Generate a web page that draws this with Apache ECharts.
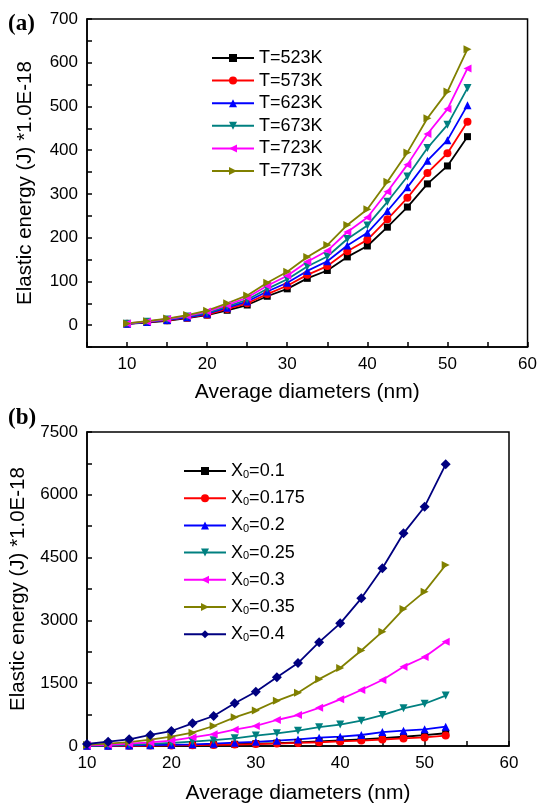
<!DOCTYPE html>
<html>
<head>
<meta charset="utf-8">
<script src="https://cdn.jsdelivr.net/npm/echarts@6/dist/echarts.min.js"></script>
<style>html,body{margin:0;padding:0;background:#fff}#c{width:540px;height:805px}</style>
</head>
<body>
<div id="c"></div>
<script>
// ---- data ----
const diameters = [10, 12.5, 15, 17.5, 20, 22.5, 25, 27.5, 30, 32.5, 35, 37.5, 40, 42.5, 45, 47.5, 50, 52.5];

const namesA = ['T=523K', 'T=573K', 'T=623K', 'T=673K', 'T=723K', 'T=773K'];
const T523 = [3, 6, 10, 16, 23, 34, 46, 66, 83, 107, 125, 156, 181, 224, 270, 323, 364, 431];
const T573 = [3, 7, 11, 17, 24, 37, 50, 71, 90, 115, 135, 169, 195, 242, 291, 348, 393, 465];
const T623 = [3, 7, 12, 18, 26, 40, 54, 77, 97, 124, 146, 182, 211, 261, 315, 376, 423, 503];
const T673 = [3, 8, 13, 20, 28, 43, 58, 83, 105, 134, 157, 197, 228, 282, 340, 405, 458, 542];
const T723 = [4, 8, 14, 21, 31, 46, 63, 90, 113, 145, 170, 213, 246, 305, 367, 437, 494, 587];
const T773 = [4, 9, 15, 23, 33, 50, 68, 97, 122, 156, 183, 229, 265, 328, 395, 473, 534, 631];

const namesB = ['X0=0.1', 'X0=0.175', 'X0=0.2', 'X0=0.25', 'X0=0.3', 'X0=0.35', 'X0=0.4'];
const X01 = [2, 4, 7, 11, 16, 23, 31, 42, 55, 70, 88, 108, 131, 158, 188, 221, 258, 305];
const X0175 = [2, 4, 6, 9, 13, 19, 26, 35, 46, 58, 73, 90, 109, 130, 155, 180, 205, 250];
const X02 = [4, 8, 13, 20, 30, 40, 55, 79, 100, 127, 158, 200, 222, 263, 333, 366, 398, 461];
const X025 = [8, 18, 30, 50, 75, 105, 140, 184, 250, 303, 366, 450, 512, 605, 740, 900, 1010, 1205];
const X03 = [15, 30, 55, 85, 130, 205, 283, 390, 478, 621, 740, 912, 1114, 1338, 1577, 1895, 2125, 2492];
const X035 = [25, 55, 95, 150, 222, 318, 478, 685, 850, 1080, 1270, 1597, 1862, 2280, 2731, 3270, 3686, 4323];
const X04 = [48, 103, 160, 263, 358, 542, 716, 1020, 1297, 1640, 1980, 2480, 2930, 3527, 4244, 5080, 5716, 6728];

// ---- styles ----
const colorsA = ['#000000', '#ff0000', '#0000ff', '#008080', '#ff00ff', '#808000'];
const symbolsA = [['rect', 0], ['circle', 0], ['triangle', 0], ['triangle', 180], ['triangle', 90], ['triangle', -90]];
const colorsB = ['#000000', '#ff0000', '#0000ff', '#008080', '#ff00ff', '#808000', '#000080'];
const symbolsB = [['rect', 0], ['circle', 0], ['triangle', 0], ['triangle', 180], ['triangle', 90], ['triangle', -90], ['diamond', 0]];

const seriesA = [T523, T573, T623, T673, T723, T773];
const seriesB = [X01, X0175, X02, X025, X03, X035, X04];

const FONT = '"Liberation Sans", Arial, sans-serif';

function mk(name, vals, color, sym, gi) {
  return {
    name: name, type: 'line', xAxisIndex: gi, yAxisIndex: gi,
    data: diameters.map((d, i) => [d, vals[i]]),
    symbol: sym[0], symbolRotate: sym[1], symbolSize: sym[0] === 'diamond' ? 10 : (sym[0] === 'rect' ? 7 : 8),
    color: color, lineStyle: { width: 1.8, color: color },
    itemStyle: { color: color }, animation: false, z: 3
  };
}

const series = [];
namesA.forEach((n, i) => series.push(mk(n, seriesA[i], colorsA[i], symbolsA[i], 0)));
namesB.forEach((n, i) => series.push(mk(n, seriesB[i], colorsB[i], symbolsB[i], 1)));

function xAx(gi, min, max) {
  return {
    gridIndex: gi, type: 'value', min: min, max: max, interval: 5,
    name: 'Average diameters (nm)', nameLocation: 'middle', nameGap: gi === 0 ? 35 : 37,
    nameTextStyle: { fontFamily: FONT, fontSize: 21, color: '#000' },
    axisLine: { show: true, onZero: false, lineStyle: { color: '#000', width: 1.5 } },
    axisTick: { show: true, inside: true, length: 5, lineStyle: { color: '#000', width: 1.5 } },
    axisLabel: { fontFamily: FONT, fontSize: 17, color: '#000', margin: 9,
      formatter: v => (v % 10 === 0 ? String(v) : '') },
    splitLine: { show: false }
  };
}
function yAx(gi, min, max, interval, labStep) {
  return {
    gridIndex: gi, type: 'value', min: min, max: max, interval: interval,
    name: 'Elastic energy (J) *1.0E-18', nameLocation: 'middle', nameGap: 51,
    nameTextStyle: { fontFamily: FONT, fontSize: 20.5, color: '#000' },
    axisLine: { show: true, onZero: false, lineStyle: { color: '#000', width: 1.5 } },
    axisTick: { show: true, inside: true, length: 5, lineStyle: { color: '#000', width: 1.5 } },
    axisLabel: { fontFamily: FONT, fontSize: 17, color: '#000', margin: 9,
      formatter: v => (v % labStep === 0 ? String(v) : '') },
    splitLine: { show: false }
  };
}

const chart = echarts.init(document.getElementById('c'), null, { renderer: 'canvas' });
chart.setOption({
  backgroundColor: '#fff',
  animation: false,
  grid: [
    { left: 87, top: 19, width: 445, height: 328, show: true, borderColor: '#000', borderWidth: 1.5, backgroundColor: 'transparent' },
    { left: 87, top: 432, width: 422, height: 314, show: true, borderColor: '#000', borderWidth: 1.5, backgroundColor: 'transparent' }
  ],
  xAxis: [xAx(0, 5, 60), xAx(1, 10, 60)],
  yAxis: [yAx(0, -50, 700, 50, 100), yAx(1, 0, 7500, 750, 1500)],
  legend: [
    { data: namesA, orient: 'vertical', left: 211, top: 49, padding: 0, itemWidth: 42, itemHeight: 10, itemGap: 4.6,
      textStyle: { fontFamily: FONT, fontSize: 18, color: '#000', lineHeight: 18 }, selectedMode: false },
    { data: namesB, orient: 'vertical', left: 183, top: 462, padding: 0, itemWidth: 42, itemHeight: 10, itemGap: 9.2,
      formatter: n => 'X{s|0}' + n.slice(2),
      textStyle: { fontFamily: FONT, fontSize: 18, color: '#000', lineHeight: 18,
        rich: { s: { fontFamily: FONT, fontSize: 11, color: '#000', verticalAlign: 'bottom', padding: [9, 0, 0, 0] } } },
      selectedMode: false }
  ],
  graphic: [
    { type: 'text', left: 8, top: 13, style: { text: '(a)', font: 'bold 23px "Liberation Serif", "Times New Roman", serif', fill: '#000' } },
    { type: 'text', left: 8, top: 407, style: { text: '(b)', font: 'bold 23px "Liberation Serif", "Times New Roman", serif', fill: '#000' } }
  ],
  series: series
});
</script>
</body>
</html>
